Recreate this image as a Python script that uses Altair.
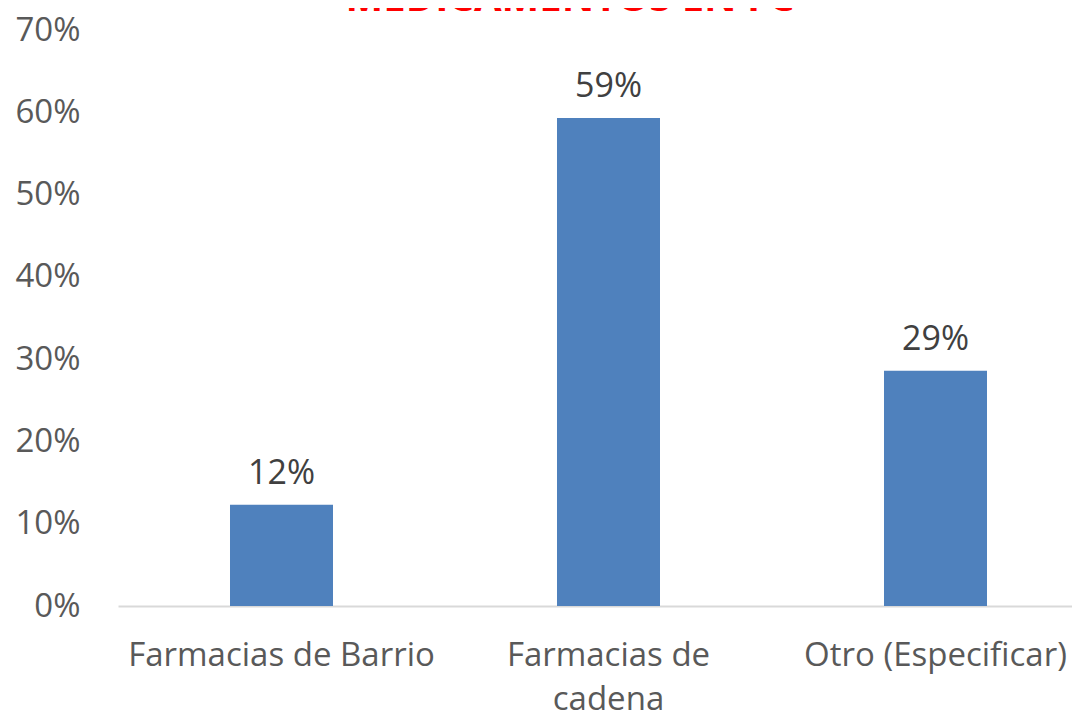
import altair as alt
import pandas as pd

categories = ["Farmacias de Barrio", "Farmacias de cadena", "Otro (Especificar)"]
values = [0.123, 0.593, 0.286]
labels = ["12%", "59%", "29%"]
title_text = "MEDICAMENTOS EN FC"

df = pd.DataFrame({"cat": categories, "val": values, "lab": labels})

FONT = "Open Sans"
W = 954
H = 576

x = alt.X("cat:N", sort=categories,
          scale=alt.Scale(range=[0, 981], paddingInner=0.685, paddingOuter=0.3425),
          axis=alt.Axis(title=None, labelAngle=0, labelFont=FONT, labelFontSize=33,
                        labelColor="#595959", labelPadding=33, ticks=False, labelLimit=0,
                        domainColor="#d9d9d9", domainWidth=2, labelLineHeight=44,
                        labelExpr="datum.value == 'Farmacias de cadena' ? ['Farmacias de', 'cadena'] : datum.value"))
y = alt.Y("val:Q", scale=alt.Scale(domain=[0, 0.7], nice=False),
          axis=alt.Axis(title=None, format=".0%", values=[0, 0.1, 0.2, 0.3, 0.4, 0.5, 0.6, 0.7],
                        labelFont=FONT, labelFontSize=33, labelColor="#595959",
                        labelPadding=38, ticks=False, domain=False, grid=False))

bars = alt.Chart(df).mark_bar(color="#4f81bd").encode(x=x, y=y)
text = alt.Chart(df).mark_text(dy=-21, baseline="alphabetic", font=FONT, fontSize=34,
                               color="#404040").encode(x=x, y=y, text="lab:N")
title = alt.Chart(pd.DataFrame({"t": [title_text]})).mark_text(
    font=FONT, fontSize=40, fontWeight="bold", color="#ff0000", baseline="alphabetic",
    align="center").encode(x=alt.value(452), y=alt.value(-19), text="t:N")

chart = alt.layer(bars, text, title).properties(
    width=W, height=H,
    background="white",
    autosize=alt.AutoSizeParams(type="none"),
    padding={"left": 110, "top": 22, "right": 0, "bottom": 107},
).configure_view(strokeWidth=0, stroke="transparent")

chart.save("out.html", embed_options={"renderer": "svg", "actions": False})
